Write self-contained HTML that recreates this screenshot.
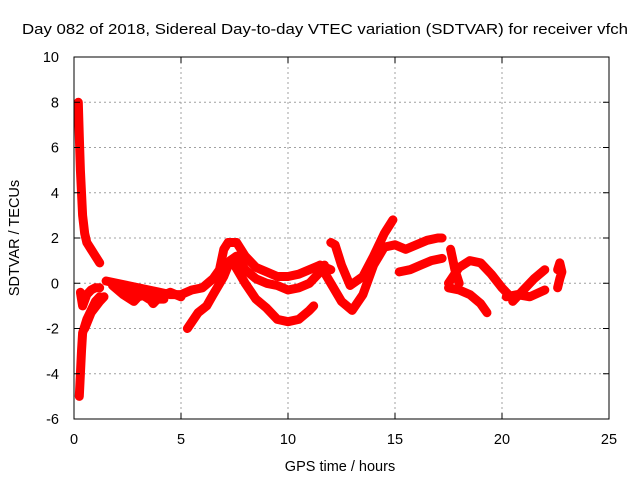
<!DOCTYPE html>
<html><head><meta charset="utf-8"><style>
body{margin:0;background:#fff;font-family:"Liberation Sans",sans-serif}
svg text{font-family:"Liberation Sans",sans-serif;font-size:14.5px;fill:#000}
</style></head><body>
<svg width="640" height="480" xmlns="http://www.w3.org/2000/svg">
<text x="325" y="34" text-anchor="middle" textLength="606" lengthAdjust="spacingAndGlyphs">Day 082 of 2018, Sidereal Day-to-day VTEC variation (SDTVAR) for receiver vfch</text>
<g id="grid"></g>
<g id="series"></g>
<rect x="74" y="57" width="535" height="362" fill="none" stroke="#000" stroke-width="1"/>
<g id="ticks"></g>
<text x="340" y="471" text-anchor="middle">GPS time / hours</text>
<text transform="translate(19,238) rotate(-90)" text-anchor="middle">SDTVAR / TECUs</text>
</svg>
<script>
const xTicks=[0,5,10,15,20,25];
const yTicks=[-6,-4,-2,0,2,4,6,8,10];
const t1Hours=[0.2,0.25,0.3,0.35,0.4,0.5,0.6,0.8,1.0,1.2];
const t1Tecu=[8,6.5,5,4,3,2.2,1.8,1.5,1.2,0.9];
const t2Hours=[0.25,0.3,0.35,0.4,0.6,0.8,1.0,1.2];
const t2Tecu=[-5,-4,-3,-2.2,-1.6,-1.2,-0.8,-0.6];
const t3Hours=[0.3,0.4,0.6,0.8,1.0,1.2];
const t3Tecu=[-0.4,-1,-0.5,-0.3,-0.2,-0.2];
const t4Hours=[0.5,0.8,1.2,1.4];
const t4Tecu=[-2,-1.3,-0.8,-0.6];
const t5Hours=[1.5,2,2.5,3,3.5,4,4.5,5,5.5,6,6.5,6.8,7,7.2,7.6,8,8.5,9,9.5,10,10.5,11,11.5,12];
const t5Tecu=[0.1,0,-0.1,-0.2,-0.3,-0.4,-0.5,-0.5,-0.3,-0.2,0.2,0.6,1.5,1.8,1.8,1.2,0.7,0.5,0.3,0.3,0.4,0.6,0.8,0.6];
const t6Hours=[1.8,2.3,2.8,3,3.4,3.7,4,4.5,5];
const t6Tecu=[-0.1,-0.5,-0.8,-0.6,-0.5,-0.9,-0.6,-0.4,-0.6];
const t7Hours=[2.2,3,3.5,4.2];
const t7Tecu=[-0.3,-0.4,-0.7,-0.7];
const t8Hours=[5.3,5.8,6.2,6.5,7,7.3,7.6,8,8.5,9,9.5,10,10.5,11,11.5,11.7];
const t8Tecu=[-2,-1.3,-1,-0.5,0.3,1,1.2,0.6,0.2,0,-0.1,-0.3,-0.2,0,0.5,0.8];
const t9Hours=[7.5,8,8.5,9,9.5,10,10.5,11,11.2];
const t9Tecu=[0.8,0,-0.7,-1.1,-1.6,-1.7,-1.6,-1.2,-1.0];
const t10Hours=[12,12.2,12.5,12.9,13.5,14,14.5,14.9];
const t10Tecu=[1.8,1.7,0.8,-0.1,0.3,1.2,2.2,2.8];
const t11Hours=[11.5,12,12.5,13,13.5,14,14.5,15,15.5,16,16.5,17,17.2];
const t11Tecu=[0.8,0,-0.8,-1.2,-0.5,0.8,1.6,1.7,1.5,1.7,1.9,2,2];
const t12Hours=[15.2,15.7,16.2,16.7,17.2];
const t12Tecu=[0.5,0.6,0.8,1.0,1.1];
const t13Hours=[17.5,18,18.5,19,19.5,20,20.3];
const t13Tecu=[0,0.7,1,0.9,0.4,-0.2,-0.5];
const t14Hours=[17.5,18,18.5,19,19.3];
const t14Tecu=[-0.2,-0.3,-0.5,-0.9,-1.3];
const t15Hours=[17.6,17.8,18.0];
const t15Tecu=[1.5,0.6,0];
const t16Hours=[20.5,21,21.5,22];
const t16Tecu=[-0.8,-0.3,0.2,0.6];
const t17Hours=[20.2,20.7,21.3,22];
const t17Tecu=[-0.6,-0.5,-0.6,-0.3];
const t18Hours=[22.6,22.7,22.8,22.7,22.6];
const t18Tecu=[-0.2,0.2,0.5,0.9,0.6];
const tracks=[[t1Hours,t1Tecu],[t2Hours,t2Tecu],[t3Hours,t3Tecu],[t4Hours,t4Tecu],[t5Hours,t5Tecu],[t6Hours,t6Tecu],[t7Hours,t7Tecu],[t8Hours,t8Tecu],[t9Hours,t9Tecu],[t10Hours,t10Tecu],[t11Hours,t11Tecu],[t12Hours,t12Tecu],[t13Hours,t13Tecu],[t14Hours,t14Tecu],[t15Hours,t15Tecu],[t16Hours,t16Tecu],[t17Hours,t17Tecu],[t18Hours,t18Tecu]];
const NS="http://www.w3.org/2000/svg";
const X0=74,X1=609,Y0=419,Y1=57;
function sx(v){return X0+(v-0)/(25-0)*(X1-X0);}
function sy(v){return Y0-(v+6)/(16)*(Y0-Y1);}
const grid=document.getElementById('grid'),ticks=document.getElementById('ticks'),series=document.getElementById('series');
function mk(tag,attrs,parent){const e=document.createElementNS(NS,tag);for(const k in attrs)e.setAttribute(k,attrs[k]);parent.appendChild(e);return e;}
xTicks.forEach(v=>{const x=sx(v);
 if(v>0&&v<25){const g=mk('line',{x1:x,x2:x,y1:Y0,y2:Y1,stroke:'#a0a0a0','stroke-dasharray':'2,3'},grid);
 
 }
 const t=mk('line',{x1:x,x2:x,y1:Y0,y2:Y0-6,stroke:'#000'},ticks);
 
 
 const t2=mk('line',{x1:x,x2:x,y1:Y1,y2:Y1+6,stroke:'#000'},ticks);
 
 
 const l=mk('text',{x:x,y:444,'text-anchor':'middle'},ticks);l.textContent=v;
 
 });
yTicks.forEach(v=>{const y=sy(v);
 if(v>-6&&v<10){const g=mk('line',{x1:X0,x2:X1,y1:y,y2:y,stroke:'#a0a0a0','stroke-dasharray':'2,3'},grid);
 
 }
 const t=mk('line',{x1:X0,x2:X0+6,y1:y,y2:y,stroke:'#000'},ticks);
 
 
 const t2=mk('line',{x1:X1,x2:X1-6,y1:y,y2:y,stroke:'#000'},ticks);
 
 
 const l=mk('text',{x:59,y:y+5,'text-anchor':'end'},ticks);l.textContent=v;
 
 });
tracks.forEach(tr=>{const xs=tr[0],ys=tr[1];
 const pts=xs.map((h,i)=>sx(h).toFixed(1)+','+sy(ys[i]).toFixed(1)).join(' ');
 const p=mk('polyline',{points:pts,fill:'none',stroke:'#f00','stroke-width':9,'stroke-linejoin':'round','stroke-linecap':'round'},series);
 
 
 xs.forEach((h,i)=>{const x=sx(h),y=sy(ys[i]);
  const m=mk('path',{d:`M${x-4},${y}h8M${x},${y-4}v8`,stroke:'#f00','stroke-width':1},series);
  
  });});
</script>
</body></html>
